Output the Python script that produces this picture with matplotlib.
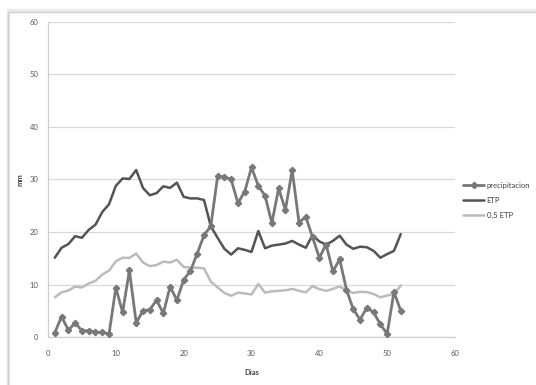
import matplotlib
matplotlib.use("Agg")
import matplotlib.pyplot as plt
from matplotlib.patches import Rectangle

plt.rcParams["font.family"] = ["Lato", "DejaVu Sans"]

# days 1..52
dias = list(range(1, 53))

precipitacion = [0.8, 3.9, 1.3, 2.7, 1.2, 1.2, 0.9, 0.9, 0.6, 9.4,
                 4.7, 12.7, 2.7, 5.0, 5.2, 7.0, 4.5, 9.6, 7.0, 10.9,
                 12.6, 15.9, 19.4, 21.1, 30.6, 30.5, 30.0, 25.5, 27.7, 32.3,
                 28.8, 26.9, 21.7, 28.3, 24.2, 31.8, 21.8, 22.9, 19.0, 15.1,
                 17.6, 12.5, 14.8, 9.0, 5.3, 3.3, 5.6, 4.7, 2.4, 0.6,
                 8.6, 5.0]

etp = [15.1, 17.0, 17.7, 19.2, 18.9, 20.4, 21.4, 23.8, 25.3, 28.8,
       30.2, 30.1, 31.8, 28.4, 27.0, 27.4, 28.7, 28.4, 29.4, 26.7,
       26.4, 26.4, 26.1, 21.1, 18.9, 16.8, 15.7, 16.9, 16.6, 16.2,
       20.2, 16.9, 17.4, 17.6, 17.8, 18.3, 17.6, 17.0, 19.4, 18.2,
       17.6, 18.3, 19.3, 17.6, 16.8, 17.2, 17.1, 16.4, 15.1, 15.8,
       16.4, 19.6]

media_etp = [7.55, 8.5, 8.85, 9.6, 9.45, 10.2, 10.7, 11.9, 12.65, 14.4,
             15.1, 15.05, 15.9, 14.2, 13.5, 13.7, 14.35, 14.2, 14.7, 13.35,
             13.2, 13.2, 13.05, 10.55, 9.45, 8.4, 7.85, 8.45, 8.3, 8.1,
             10.1, 8.45, 8.7, 8.8, 8.9, 9.15, 8.8, 8.5, 9.7, 9.1,
             8.8, 9.15, 9.65, 8.8, 8.4, 8.6, 8.55, 8.2, 7.55, 7.9,
             8.2, 9.8]

fig = plt.figure(figsize=(5.36, 3.85), dpi=100)
ax = fig.add_axes([48 / 536, 1 - 337 / 385, (455 - 48) / 536, (337 - 22) / 385])

# chart area frame with a faint shadow on top
fig.patches.append(Rectangle((8 / 536, -0.02), 1.0, 1 - 10 / 385 + 0.02,
                             transform=fig.transFigure, fill=False,
                             edgecolor="#ececec", linewidth=2.5))
fig.patches.append(Rectangle((8 / 536, -0.02), 1.0, 1 - 12 / 385 + 0.02,
                             transform=fig.transFigure, fill=False,
                             edgecolor="#cfcfcf", linewidth=1.0))

line_kw = dict(solid_joinstyle="round", solid_capstyle="round")
ax.plot(dias, precipitacion, color="#787878", lw=2.0, marker="D", ms=3.2,
        label="precipitacion", zorder=4, **line_kw)
ax.plot(dias, etp, color="#545454", lw=1.8, label="ETP", zorder=3, **line_kw)
ax.plot(dias, media_etp, color="#bcbcbc", lw=1.8, label="0,5 ETP", zorder=3, **line_kw)

ax.set_xlim(0, 60)
ax.set_ylim(0, 60)
ax.set_xticks(range(0, 61, 10))
ax.set_yticks(range(0, 61, 10))
ax.grid(True, axis="y", color="#d9d9d9", lw=0.9)
ax.set_axisbelow(True)
ax.tick_params(axis="x", length=0, labelsize=5.5, labelcolor="#595959", pad=9)
ax.tick_params(axis="y", length=0, labelsize=5.5, labelcolor="#595959", pad=7)
for s in ["top", "right"]:
    ax.spines[s].set_visible(False)
for s in ["left", "bottom"]:
    ax.spines[s].set_color("#d0d0d0")
    ax.spines[s].set_linewidth(0.9)

ax.set_xlabel("Dias", fontsize=5.5, fontweight="bold", color="#404040", labelpad=9)
ax.set_ylabel("mm", fontsize=5.5, fontweight="bold", color="#404040", labelpad=4)

fig.legend(loc="upper left", bbox_to_anchor=(456 / 536, 1 - 175 / 385),
           frameon=False, fontsize=5.5, handlelength=2.8, labelspacing=1.05,
           handletextpad=0.3, labelcolor="#404040")

fig.savefig("out.png", dpi=100)
